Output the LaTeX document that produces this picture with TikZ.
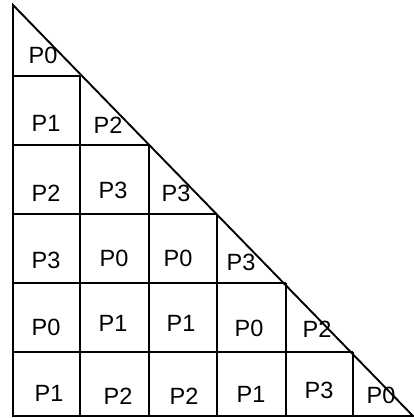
\documentclass[tikz,border=0pt]{standalone}
\usepackage{fontspec}
\setmainfont{Liberation Sans}
\begin{document}
\begin{tikzpicture}[x=1pt,y=-1pt,
  gridline/.style={line width=1.9pt,black},
  lbl/.style={font=\fontsize{23.5}{24}\selectfont,inner sep=0pt,anchor=base}]
\useasboundingbox (0,0) rectangle (414,418);
\def\cols{{13,80,149,217,286,353,413}}
\def\rows{{5,76,145,214,283,352,416}}
% outer triangle
\coordinate (apex) at (13,5);
\coordinate (bl) at (13,416);
\coordinate (br) at (413,416);
\draw[gridline,line join=miter] (apex) -- (bl) -- (br) -- cycle;
% horizontal lines
\foreach \k in {1,...,5}{
  \pgfmathsetmacro\yy{\rows[\k]}
  \pgfmathsetmacro\xx{\cols[\k]}
  \draw[gridline] (13,\yy) -- (\xx,\yy);
}
% vertical lines
\foreach \k in {1,...,5}{
  \pgfmathsetmacro\yy{\rows[\k]}
  \pgfmathsetmacro\xx{\cols[\k]}
  \draw[gridline] (\xx,\yy) -- (\xx,416);
}
% labels
\node[lbl] (r0c0) at (43,63) {P0};
\node[lbl] (r1c0) at (46,131) {P1};
\node[lbl] (r1c1) at (108,133) {P2};
\node[lbl] (r2c0) at (46,201) {P2};
\node[lbl] (r2c1) at (113,198) {P3};
\node[lbl] (r2c2) at (176,201) {P3};
\node[lbl] (r3c0) at (46,268) {P3};
\node[lbl] (r3c1) at (114,266) {P0};
\node[lbl] (r3c2) at (178,266) {P0};
\node[lbl] (r3c3) at (241,270) {P3};
\node[lbl] (r4c0) at (46,335) {P0};
\node[lbl] (r4c1) at (113,331) {P1};
\node[lbl] (r4c2) at (181,331) {P1};
\node[lbl] (r4c3) at (249,336) {P0};
\node[lbl] (r4c4) at (317,337) {P2};
\node[lbl] (r5c0) at (49,401) {P1};
\node[lbl] (r5c1) at (118,404) {P2};
\node[lbl] (r5c2) at (184,404) {P2};
\node[lbl] (r5c3) at (251,402) {P1};
\node[lbl] (r5c4) at (319,398) {P3};
\node[lbl] (r5c5) at (381,403) {P0};
\end{tikzpicture}
\end{document}
